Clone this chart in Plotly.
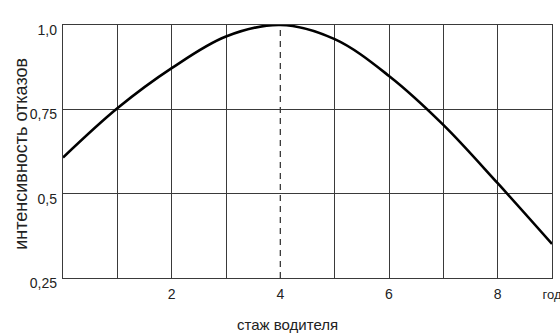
import plotly.graph_objects as go

# curve: years of experience -> failure intensity
years = [0, 1, 2, 3, 4, 5, 6, 7, 8, 9]
intensity = [0.607, 0.753, 0.872, 0.966, 1.0, 0.958, 0.849, 0.704, 0.531, 0.351]

# peak of the curve (dashed line)
peak_year = 4
y_min, y_max = 0.25, 1.0

x_tickvals = [2, 4, 6, 8, 9]
x_ticktext = ["2", "4", "6", "8", "<span style='font-size:13px'>год</span>"]
x_gridvals = [1, 2, 3, 5, 6, 7, 8]
y_tickvals = [0.25, 0.5, 0.75, 1.0]
y_ticktext = ["0,25", "0,5", "0,75", "1,0"]

FONT = "Liberation Sans, Arial, sans-serif"
GRID = "#3a3a3a"

fig = go.Figure()

fig.add_trace(go.Scatter(
    x=[peak_year, peak_year], y=[y_min, y_max],
    mode="lines",
    line={"color": GRID, "width": 1.3, "dash": "6px,5px"},
    hoverinfo="skip",
))
fig.add_trace(go.Scatter(
    x=years, y=intensity,
    mode="lines",
    line={"color": "black", "width": 2.6, "shape": "spline", "smoothing": 1},
))

fig.update_layout(
    width=560, height=334,
    margin={"l": 63, "r": 7.5, "t": 24.7, "b": 56},
    plot_bgcolor="white", paper_bgcolor="white",
    showlegend=False,
    font={"family": FONT, "color": "#222"},
    xaxis={
        "range": [0, 9], "automargin": False,
        "tickvals": x_tickvals, "ticktext": x_ticktext,
        "showgrid": False, "zeroline": False,
        "ticks": "", "ticklabelstandoff": 3,
        "ticklabeloverflow": "allow",
        "tickfont": {"size": 14},
        "showline": True, "linecolor": GRID, "linewidth": 1.3, "mirror": True,
        "minor": {"tickvals": x_gridvals, "showgrid": True,
                  "gridcolor": GRID, "gridwidth": 1.3, "ticks": ""},
    },
    yaxis={
        "range": [y_min, y_max], "automargin": False,
        "tickvals": y_tickvals, "ticktext": y_ticktext,
        "showgrid": True, "gridcolor": GRID, "gridwidth": 1.3,
        "zeroline": False,
        "ticks": "", "ticklabelstandoff": 2, "ticklabelshift": 5,
        "tickfont": {"size": 14},
        "showline": True, "linecolor": GRID, "linewidth": 1.3, "mirror": True,
    },
    annotations=[
        {"text": "стаж водителя", "xref": "paper", "yref": "paper",
         "x": 0.46, "y": -0.185, "xanchor": "center", "yanchor": "middle",
         "showarrow": False, "font": {"size": 15}},
        {"text": "интенсивность отказов", "xref": "paper", "yref": "paper",
         "x": -0.085, "y": 0.493, "xanchor": "center", "yanchor": "middle",
         "textangle": -90, "showarrow": False, "font": {"size": 18}},
    ],
)

# the page body has an 8px margin by default; drop it so the figure sits at 0,0
fig.write_html("out.html", config={"displayModeBar": False},
               post_script="document.body.style.margin='0px';")
